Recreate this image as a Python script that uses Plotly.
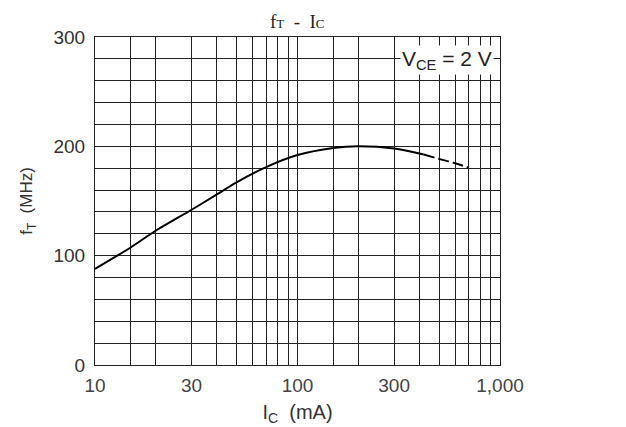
import plotly.graph_objects as go

# Data
ic_solid = [10, 15, 20, 30, 40, 50, 70, 100, 150, 200, 300, 420]
ft_solid = [88, 107.5, 123, 142, 156, 167, 181, 192, 198.5, 200, 198, 192.5]
ic_dash = [420, 500, 600, 700]
ft_dash = [192.5, 188.5, 184.5, 180.5]

x_grid = [10, 15, 20, 30, 40, 50, 60, 70, 80, 90, 100, 150, 200, 300, 400, 500, 600, 700, 800, 900, 1000]
x_labels = {10: "10", 30: "30", 100: "100", 300: "300", 1000: "1,000"}
y_grid = list(range(0, 301, 20))
y_labels = {0: "0", 100: "100", 200: "200", 300: "300"}

fig = go.Figure()
fig.add_trace(go.Scatter(x=ic_solid, y=ft_solid, mode="lines",
                         line=dict(color="black", width=2, shape="spline", smoothing=0.8),
                         showlegend=False, hoverinfo="skip"))
fig.add_trace(go.Scatter(x=ic_dash, y=ft_dash, mode="lines",
                         line=dict(color="black", width=2, dash="11px,4px", shape="spline"),
                         showlegend=False, hoverinfo="skip"))

fig.add_annotation(x=0.985, y=0.93, xref="paper", yref="paper",
                   text="V<sub>CE</sub> = 2 V", showarrow=False,
                   xanchor="right", yanchor="middle",
                   font=dict(family="Liberation Sans, Arial", size=21, color="#222"),
                   bgcolor="white", borderpad=1)

fig.update_layout(
    width=626, height=427,
    margin=dict(l=87, r=134, t=29, b=70),
    paper_bgcolor="white", plot_bgcolor="white",
    title=dict(text="f<span style='font-size:13px'>T</span>&nbsp;&nbsp;-&nbsp;&nbsp;I<span style='font-size:13px'>C</span>",
               x=0.462, xanchor="center", y=0.985, yanchor="top",
               font=dict(family="Liberation Serif, DejaVu Serif", size=19, color="#222")),
    xaxis=dict(type="log", range=[1, 3],
               tickvals=x_grid, ticktext=[x_labels.get(v, "") for v in x_grid],
               showgrid=True, gridcolor="#222", gridwidth=1,
               showline=True, linecolor="#222", linewidth=1, mirror=True,
               ticks="", zeroline=False, ticklabelstandoff=3,
               tickfont=dict(family="Liberation Sans, Arial", size=19, color="#444"),
               title=dict(text="I<sub>C</sub>&nbsp;&nbsp;(mA)", standoff=10,
                          font=dict(family="Liberation Sans, Arial", size=20, color="#333"))),
    yaxis=dict(range=[0, 300],
               tickvals=y_grid, ticktext=[y_labels.get(v, "") for v in y_grid],
               showgrid=True, gridcolor="#222", gridwidth=1,
               showline=True, linecolor="#222", linewidth=1, mirror=True,
               ticks="", zeroline=False, ticklabelstandoff=5,
               tickfont=dict(family="Liberation Sans, Arial", size=19, color="#333"),
               title=dict(text="f<sub>T</sub>  (MHz)", standoff=16,
                          font=dict(family="Liberation Sans, Arial", size=17, color="#333"))),
)

fig.write_html("out.html")
